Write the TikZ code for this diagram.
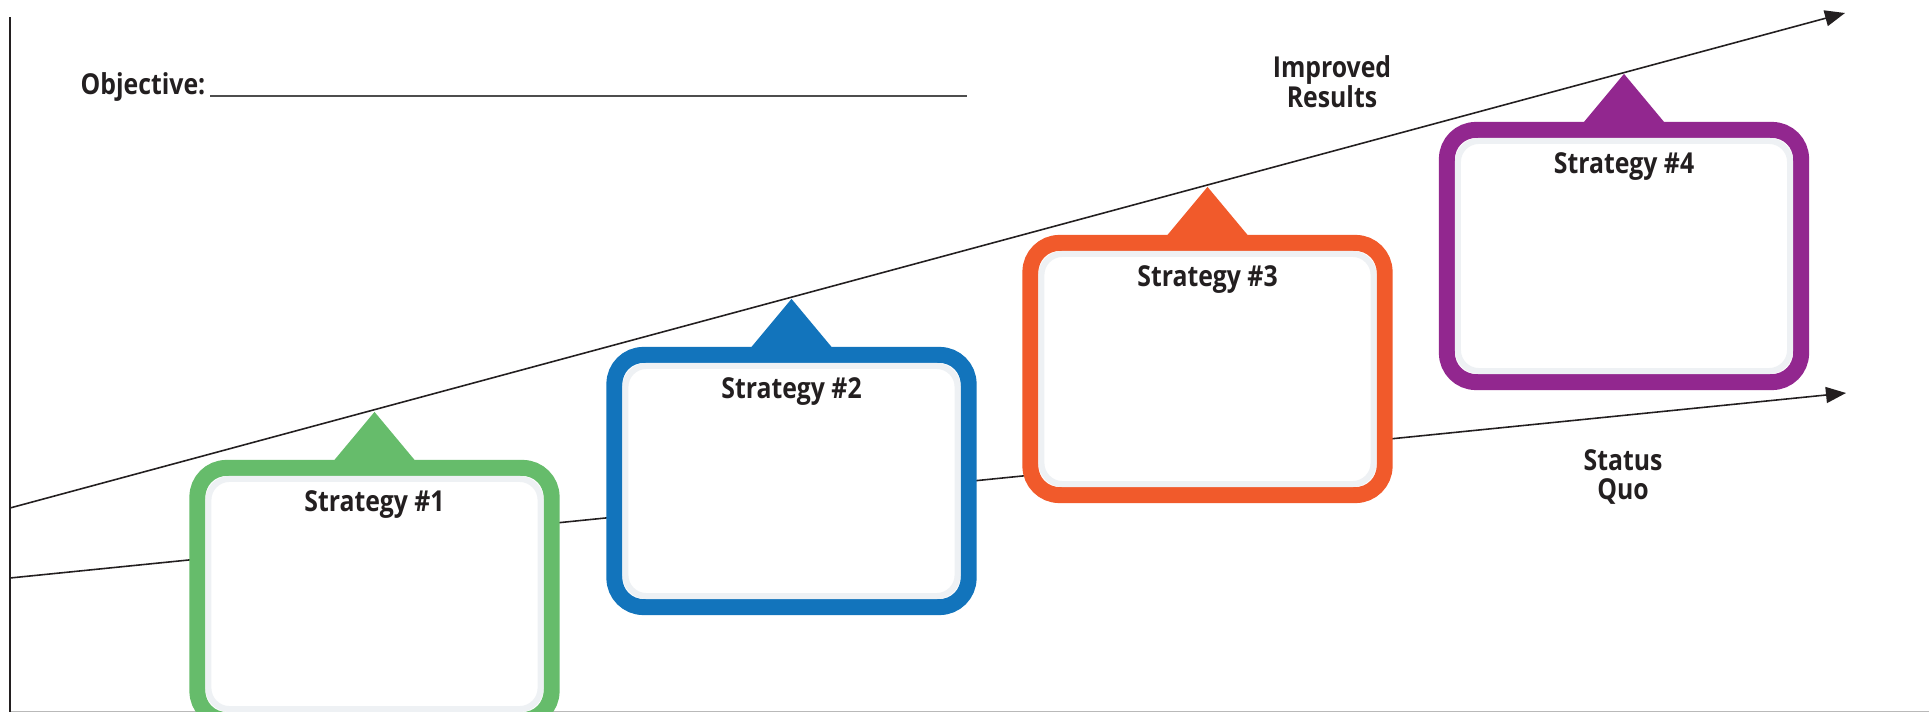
\documentclass[tikz,border=0pt]{standalone}
\usepackage{fontspec}
\setmainfont{Open Sans}[FakeStretch=0.86]
\usetikzlibrary{arrows.meta}
\definecolor{cgreen}{HTML}{66BC6B}
\definecolor{cblue}{HTML}{1274BC}
\definecolor{corange}{HTML}{F15A2B}
\definecolor{cpurple}{HTML}{92278F}
\definecolor{band}{HTML}{EEF1F4}
\definecolor{ink}{HTML}{231F20}
\definecolor{objgray}{HTML}{4D4D4D}
\begin{document}
\begin{tikzpicture}[x=0.01cm,y=-0.01cm,
  ax/.style={line width=0.45pt, ink, -{Triangle[length=0.2cm,width=0.16cm]}},
  sbox/.style={draw=#1, line width=0.16cm, rounded corners=0.29cm,
    minimum width=3.54cm, minimum height=2.52cm, fill=white, inner sep=0pt, outer sep=0.08cm},
  bandline/.style={draw=band, line width=0.06cm, rounded corners=0.21cm},
  lbl/.style={text=ink, font=\fontsize{8.2}{8.5}\selectfont\bfseries, inner sep=0pt}
]
\useasboundingbox (0,0) rectangle (1929,712);
\clip (0,0) rectangle (1929,712);
\fill[white] (0,0) rectangle (1929,712);

% axes
\coordinate (ytop) at (10,17);
\coordinate (ybot) at (10,712);
\coordinate (xend) at (1929,711.5);
\coordinate (xbeg) at (10,711.5);
\draw[gray!55, line width=0.35pt] (xbeg) -- (xend);
\draw[ink, line width=0.85pt] (ytop) -- (ybot);

% trend lines
\coordinate (u0) at (10,508);
\coordinate (u1) at (1845,13);
\coordinate (s0) at (10,578);
\coordinate (s1) at (1846,393);
\draw[ax] (u0) -- (u1);
\draw[ax] (s0) -- (s1);

% objective
\node[lbl, anchor=base west] (obj) at (80,94) {Objective:};
\coordinate (ol0) at (210,96);
\coordinate (ol1) at (967,96);
\draw[objgray, line width=0.7pt] (ol0) -- (ol1);

% labels
\node[lbl, align=center] (imp) at (1332,82) {Improved\\Results};
\node[lbl, align=center] (sq) at (1623,477) {Status\\Quo};

% boxes
\foreach \n/\c/\x/\y/\t in {1/cgreen/374.5/594/1, 2/cblue/791.5/481/2, 3/corange/1207.5/369/3, 4/cpurple/1624/256/4}{
  \node[sbox=\c] (b\n) at (\x,\y) {};
  \fill[\c] ([xshift=-0.45cm,yshift=-0.06cm]b\n.north) -- ([yshift=0.48cm]b\n.north) -- ([xshift=0.45cm,yshift=-0.06cm]b\n.north) -- cycle;
  \draw[bandline] ([shift={(0.19cm,-0.19cm)}]b\n.north west) rectangle ([shift={(-0.19cm,0.19cm)}]b\n.south east);
  \node[lbl, anchor=base] (t\n) at ([yshift=-0.52cm]b\n.north) {Strategy \#\t};
}
\end{tikzpicture}
\end{document}
